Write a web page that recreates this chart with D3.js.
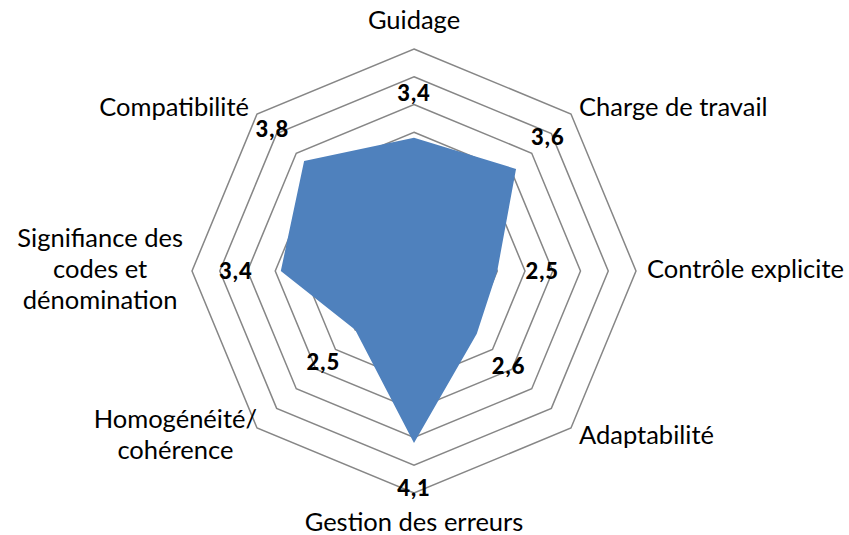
<!DOCTYPE html>
<html>
	<head>
		<meta charset="utf-8">
		<script src="https://cdn.jsdelivr.net/npm/d3@7"></script>
		<style>
			body { margin: 0; background: #fff; }
			text { font-family: Lato, "Open Sans", sans-serif; fill: #000; }
		</style>
	</head>
	<body>
		<script>
			// categories (one line per tspan) and the single series
			var categories = [
				["Guidage"],
				["Charge de travail"],
				["Contrôle explicite"],
				["Adaptabilité"],
				["Gestion des erreurs"],
				["Homogénéité/", "cohérence"],
				["Signifiance des", "codes et", "dénomination"],
				["Compatibilité"]
			];
			var values = [3.4, 3.6, 2.5, 2.6, 4.1, 2.5, 3.4, 3.8];
			var ringTicks = [1.5, 2, 2.5, 3, 3.5, 4, 4.5, 5];

			var width = 849, height = 535;
			var cx = 414, cy = 271, outer = 222;

			var svg = d3.select("body").append("svg")
				.attr("width", width)
				.attr("height", height);

			var r = d3.scaleLinear().domain([1, 5]).range([0, outer]);
			var angle = d3.scaleLinear().domain([0, categories.length]).range([0, 2 * Math.PI]);
			var fr = d3.formatLocale({ decimal: ",", thousands: " ", grouping: [3], currency: ["", " €"] }).format(".1f");

			function pt(i, rad) {
				var a = angle(i);
				return [cx + rad * Math.sin(a), cy - rad * Math.cos(a)];
			}

			// grid octagons
			svg.append("g").selectAll("path")
				.data(ringTicks)
				.enter().append("path")
				.attr("d", function(t) {
					return d3.line()(d3.range(categories.length).map(function(i) { return pt(i, r(t)); })) + "Z";
				})
				.attr("fill", "none")
				.attr("stroke", "#868686")
				.attr("stroke-width", 1.5);

			// the series
			svg.append("path")
				.datum(values)
				.attr("d", function(v) {
					return d3.line()(v.map(function(d, i) { return pt(i, r(d)); })) + "Z";
				})
				.attr("fill", "#4f81bd");

			// value labels
			svg.append("g").selectAll("text")
				.data(values)
				.enter().append("text")
				.attr("x", function(d, i) { return pt(i, r(d) + 45)[0]; })
				.attr("y", function(d, i) { return pt(i, r(d) + 45)[1]; })
				.attr("dy", "0.36em")
				.attr("text-anchor", "middle")
				.style("font-size", "22px")
				.style("font-weight", "900")
				.style("letter-spacing", "1px")
				.text(function(d) { return fr(d); });

			// category labels
			var lineH = 31;
			categories.forEach(function(lines, i) {
				var p = pt(i, outer);
				var s = Math.sin(angle(i)), c = Math.cos(angle(i));
				var t = svg.append("text")
					.attr("text-anchor", "middle")
					.style("font-size", "25.5px");
				lines.forEach(function(l, j) {
					t.append("tspan").attr("x", 0).attr("y", j * lineH).text(l);
				});
				var w = d3.max(t.selectAll("tspan").nodes(), function(n) { return n.getComputedTextLength(); });
				var x, mid;
				if (Math.abs(s) < 0.01) x = p[0];
				else if (s > 0) x = p[0] + (Math.abs(c) < 0.01 ? 11 : 8) + w / 2;
				else x = p[0] - (Math.abs(c) < 0.01 ? 9 : (c < 0 ? 0 : 8)) - w / 2;
				if (Math.abs(c) > 0.99) mid = p[1] - c * 29;
				else if (Math.abs(c) < 0.01) mid = p[1] - 2;
				else mid = p[1] - (c > 0 ? 7 : -7);
				var first = mid + 9 - (lines.length - 1) * lineH / 2;
				t.attr("transform", "translate(" + x + "," + first + ")");
			});
		</script>
	</body>
</html>
